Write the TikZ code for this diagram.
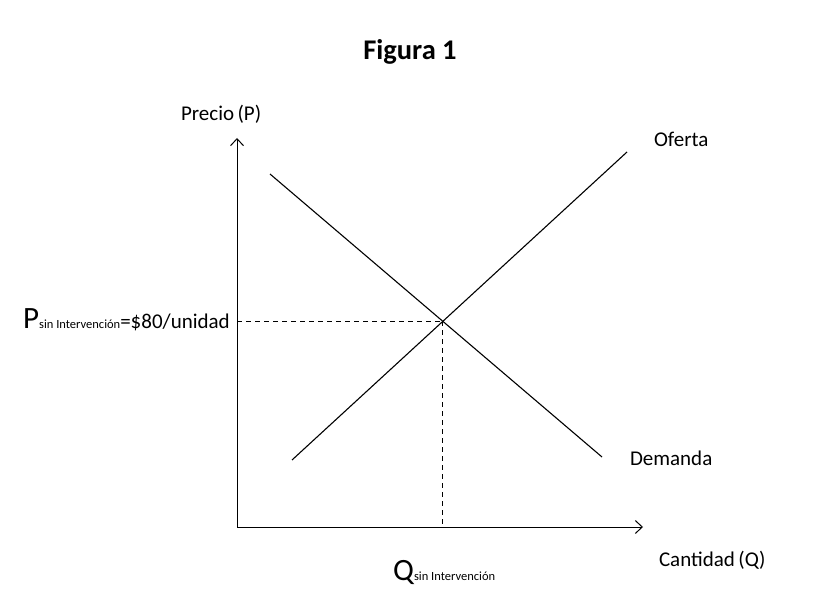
\documentclass[tikz,border=0pt]{standalone}
\usepackage{fontspec}
\setmainfont{Carlito}
\usetikzlibrary{arrows.meta,intersections}
\begin{document}
\begin{tikzpicture}[x=1pt,y=-1pt,
  lbl/.style={inner sep=0pt,outer sep=0pt,font=\fontsize{21}{24}\selectfont},
  axis/.style={line width=1pt,-{Straight Barb[length=7pt,width=13pt,line width=1pt]}},
  curve/.style={line width=1.1pt},
  guide/.style={line width=1pt,dash pattern=on 5pt off 4pt}]
\useasboundingbox (0,0) rectangle (821,601);
% axes
\coordinate (O) at (237,527);
\coordinate (ytop) at (237,138);
\coordinate (xend) at (643,527);
\draw[axis] (O) -- (ytop);
\draw[axis] (O) -- (xend);
% curves
\coordinate (S1) at (292,460);
\coordinate (S2) at (627,152);
\coordinate (D1) at (270,174);
\coordinate (D2) at (602,457);
\draw[curve,name path=sup] (S1) -- (S2);
\draw[curve,name path=dem] (D1) -- (D2);
\path[name intersections={of=sup and dem,by=E}];
\draw[guide] (O|-E) -- (E);
\draw[guide] (E) -- (E|-O);
% labels
\node[font=\fontsize{28.5}{32}\selectfont\bfseries,inner sep=0pt,anchor=base] (title) at (410,60) {Figura 1};
\node[lbl,anchor=base west] (plab) at (181,121) {Precio\,(P)};
\node[lbl,anchor=base west] (olab) at (654,147) {Oferta};
\node[lbl,anchor=base west] (dlab) at (630,465) {Demanda};
\node[lbl,anchor=base west] (qlab) at (659,566) {Cantidad\,(Q)};
\node[inner sep=0pt,anchor=base east] (pstar) at (230,328)
  {{\fontsize{31}{34}\selectfont P}{\fontsize{12.5}{14}\selectfont sin Intervención}{\fontsize{21}{24}\selectfont=\$80/unidad}};
\node[inner sep=0pt,anchor=base west] (qstar) at (393,580)
  {{\fontsize{31}{34}\selectfont Q}{\fontsize{12.5}{14}\selectfont sin Intervención}};
\end{tikzpicture}
\end{document}
